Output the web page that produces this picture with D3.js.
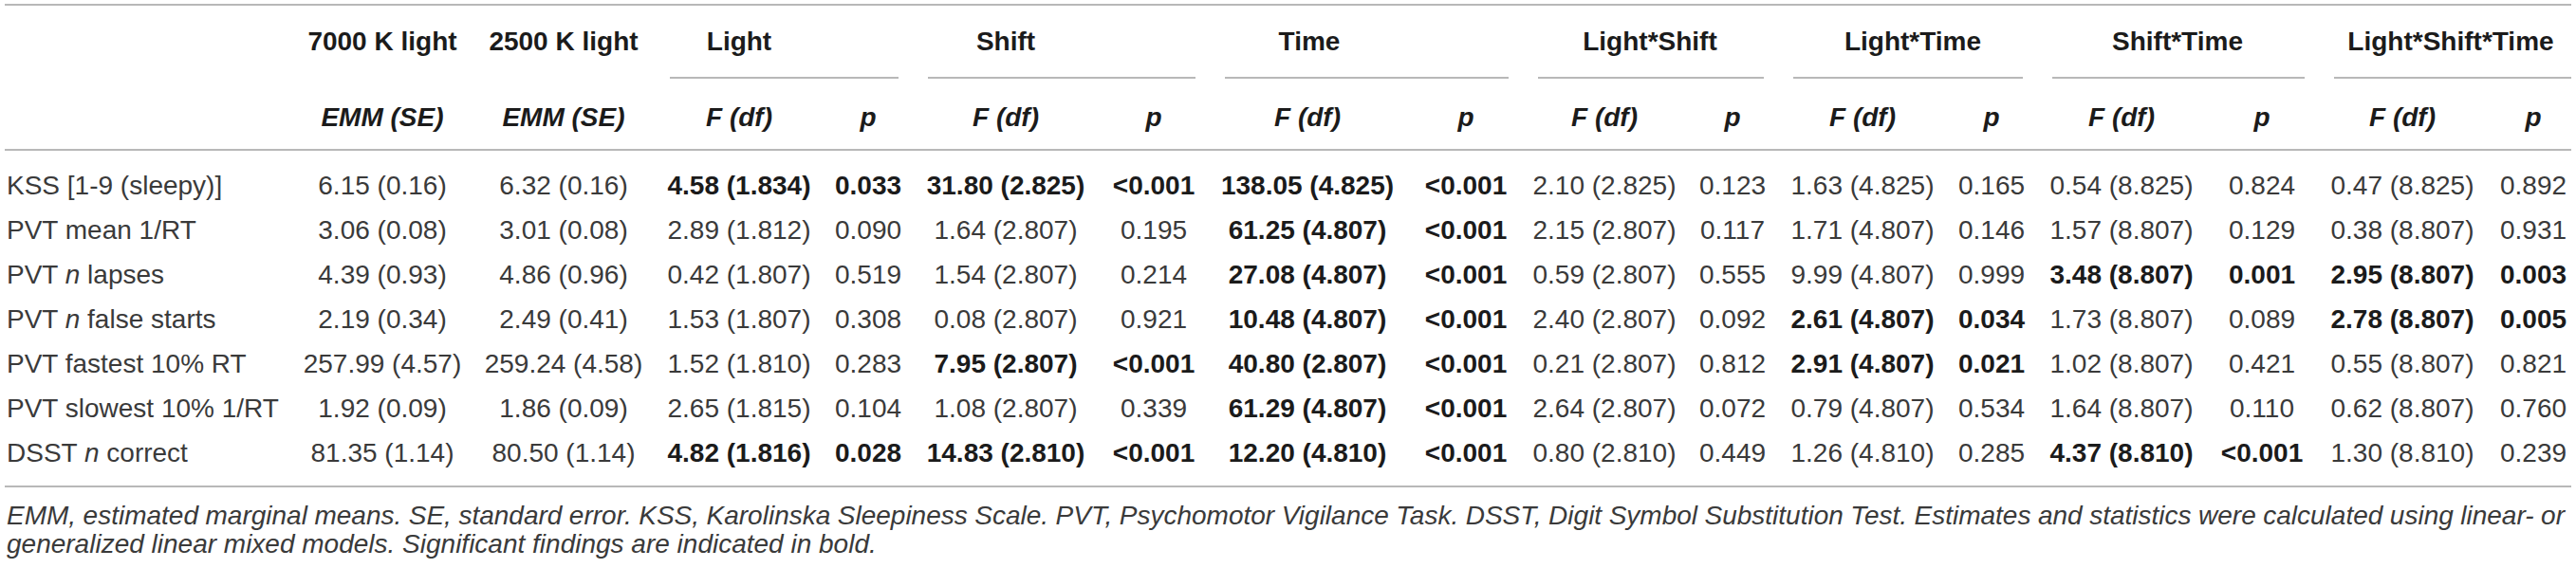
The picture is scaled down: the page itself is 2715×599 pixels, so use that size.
<!DOCTYPE html>
<html>
<head>
<meta charset="utf-8">
<script src="https://cdn.jsdelivr.net/npm/d3@7"></script>
<style>
  body { margin: 0; background: #fff; }
  text { font-family: "Liberation Sans", Arial, Helvetica, sans-serif; font-size: 28px; fill: #3a3a3a; }
  .bold { font-weight: bold; fill: #1b1b1b; }
  .ital { font-style: italic; }
  .rule { stroke: #a0a0a0; stroke-width: 1.6; }
</style>
</head>
<body>
<svg width="2715" height="599"></svg>
<script>
// ROWS
var measures = ['KSS [1-9 (sleepy)]', 'PVT mean 1/RT', 'PVT n lapses', 'PVT n false starts',
    'PVT fastest 10% RT', 'PVT slowest 10% 1/RT', 'DSST n correct']

// ESTIMATED MARGINAL MEANS (SE)
var emm7000 = [6.15, 3.06, 4.39, 2.19, 257.99, 1.92, 81.35]
var se7000 = [0.16, 0.08, 0.93, 0.34, 4.57, 0.09, 1.14]
var emm2500 = [6.32, 3.01, 4.86, 2.49, 259.24, 1.86, 80.50]
var se2500 = [0.16, 0.08, 0.96, 0.41, 4.58, 0.09, 1.14]

// EFFECTS: F, df, p
var effects = ['Light', 'Shift', 'Time', 'Light*Shift', 'Light*Time', 'Shift*Time', 'Light*Shift*Time']

var fLight = [4.58, 2.89, 0.42, 1.53, 1.52, 2.65, 4.82]
var dfLight = ['1.834', '1.812', '1.807', '1.807', '1.810', '1.815', '1.816']
var pLight = ['0.033', '0.090', '0.519', '0.308', '0.283', '0.104', '0.028']

var fShift = [31.80, 1.64, 1.54, 0.08, 7.95, 1.08, 14.83]
var dfShift = ['2.825', '2.807', '2.807', '2.807', '2.807', '2.807', '2.810']
var pShift = ['<0.001', '0.195', '0.214', '0.921', '<0.001', '0.339', '<0.001']

var fTime = [138.05, 61.25, 27.08, 10.48, 40.80, 61.29, 12.20]
var dfTime = ['4.825', '4.807', '4.807', '4.807', '2.807', '4.807', '4.810']
var pTime = ['<0.001', '<0.001', '<0.001', '<0.001', '<0.001', '<0.001', '<0.001']

var fLightShift = [2.10, 2.15, 0.59, 2.40, 0.21, 2.64, 0.80]
var dfLightShift = ['2.825', '2.807', '2.807', '2.807', '2.807', '2.807', '2.810']
var pLightShift = ['0.123', '0.117', '0.555', '0.092', '0.812', '0.072', '0.449']

var fLightTime = [1.63, 1.71, 9.99, 2.61, 2.91, 0.79, 1.26]
var dfLightTime = ['4.825', '4.807', '4.807', '4.807', '4.807', '4.807', '4.810']
var pLightTime = ['0.165', '0.146', '0.999', '0.034', '0.021', '0.534', '0.285']

var fShiftTime = [0.54, 1.57, 3.48, 1.73, 1.02, 1.64, 4.37]
var dfShiftTime = ['8.825', '8.807', '8.807', '8.807', '8.807', '8.807', '8.810']
var pShiftTime = ['0.824', '0.129', '0.001', '0.089', '0.421', '0.110', '<0.001']

var fAll = [0.47, 0.38, 2.95, 2.78, 0.55, 0.62, 1.30]
var dfAll = ['8.825', '8.807', '8.807', '8.807', '8.807', '8.807', '8.810']
var pAll = ['0.892', '0.931', '0.003', '0.005', '0.821', '0.760', '0.239']

var fByEffect = [fLight, fShift, fTime, fLightShift, fLightTime, fShiftTime, fAll]
var dfByEffect = [dfLight, dfShift, dfTime, dfLightShift, dfLightTime, dfShiftTime, dfAll]
var pByEffect = [pLight, pShift, pTime, pLightShift, pLightTime, pShiftTime, pAll]

var footnote = [
    'EMM, estimated marginal means. SE, standard error. KSS, Karolinska Sleepiness Scale. PVT, Psychomotor Vigilance Task. DSST, Digit Symbol Substitution Test. Estimates and statistics were calculated using linear- or',
    'generalized linear mixed models. Significant findings are indicated in bold.'
]

// LAYOUT
var columns = ['emm7000', 'emm2500']
effects.forEach(function(e){ columns.push(e + '|F', e + '|p') })

var colX = d3.scaleOrdinal()
    .domain(columns)
    .range([403, 594, 779, 915, 1060, 1216, 1378, 1545, 1691, 1826, 1963, 2099, 2236, 2384, 2532, 2670])

var headX = d3.scaleOrdinal()
    .domain(effects)
    .range([779, 1060, 1380, 1739, 2016, 2295, 2583])

var spanX = d3.scaleOrdinal()
    .domain(effects)
    .range([[706, 947], [978, 1260], [1291, 1590], [1621, 1859], [1890, 2132], [2163, 2429], [2460, 2710]])

var rowY = d3.scalePoint()
    .domain(measures)
    .range([195, 477])

var fmt = d3.format('.2f')
var svg = d3.select('svg')

function isSig (p) {
    return parseFloat(p.replace('<', '')) < 0.05
}

// RULES
svg.selectAll('line.full')
    .data([5, 158, 513])
    .enter()
    .append('line')
    .attr('class', 'rule')
    .attr('x1', 5).attr('x2', 2710)
    .attr('y1', function(d){ return d }).attr('y2', function(d){ return d })

svg.selectAll('line.group')
    .data(effects)
    .enter()
    .append('line')
    .attr('class', 'rule')
    .attr('x1', function(d){ return spanX(d)[0] })
    .attr('x2', function(d){ return spanX(d)[1] })
    .attr('y1', 82).attr('y2', 82)

// HEADERS
var head1 = [{t:'7000 K light', x:colX('emm7000')}, {t:'2500 K light', x:colX('emm2500')}]
    .concat(effects.map(function(e){ return {t:e, x:headX(e)} }))

svg.selectAll('text.h1')
    .data(head1)
    .enter()
    .append('text')
    .attr('class', 'h1 bold')
    .attr('x', function(d){ return d.x })
    .attr('y', 43)
    .attr('dy', '0.35em')
    .attr('text-anchor', 'middle')
    .text(function(d){ return d.t })

svg.selectAll('text.h2')
    .data(columns)
    .enter()
    .append('text')
    .attr('class', 'h2 bold ital')
    .attr('x', function(d){ return colX(d) })
    .attr('y', 123)
    .attr('dy', '0.35em')
    .attr('text-anchor', 'middle')
    .text(function(d){
        if (d.indexOf('emm') === 0) return 'EMM (SE)'
        return d.split('|')[1] === 'F' ? 'F (df)' : 'p'
    })

// ROW LABELS (n in italics)
svg.selectAll('text.label')
    .data(measures)
    .enter()
    .append('text')
    .attr('class', 'label')
    .attr('x', 7)
    .attr('y', function(d){ return rowY(d) })
    .attr('dy', '0.35em')
    .each(function(d){
        var words = d.split(' ')
        var t = d3.select(this)
        words.forEach(function(w, i){
            t.append('tspan')
                .attr('class', w === 'n' ? 'ital' : null)
                .text(w + (i < words.length - 1 ? ' ' : ''))
        })
    })

// CELLS
var cells = []
measures.forEach(function(m, i){
    cells.push({m:m, col:'emm7000', t:fmt(emm7000[i]) + ' (' + fmt(se7000[i]) + ')', b:false})
    cells.push({m:m, col:'emm2500', t:fmt(emm2500[i]) + ' (' + fmt(se2500[i]) + ')', b:false})
    effects.forEach(function(e, j){
        var p = pByEffect[j][i]
        var sig = isSig(p)
        cells.push({m:m, col:e + '|F', t:fmt(fByEffect[j][i]) + ' (' + dfByEffect[j][i] + ')', b:sig})
        cells.push({m:m, col:e + '|p', t:p, b:sig})
    })
})

svg.selectAll('text.cell')
    .data(cells)
    .enter()
    .append('text')
    .attr('class', function(d){ return d.b ? 'cell bold' : 'cell' })
    .attr('x', function(d){ return colX(d.col) })
    .attr('y', function(d){ return rowY(d.m) })
    .attr('dy', '0.35em')
    .attr('text-anchor', 'middle')
    .text(function(d){ return d.t })

// FOOTNOTE (first line justified)
svg.selectAll('text.note')
    .data(footnote)
    .enter()
    .append('text')
    .attr('class', 'note ital')
    .attr('x', 7)
    .attr('y', function(d, i){ return 543 + i * 30 })
    .attr('dy', '0.35em')
    .text(function(d){ return d })
    .each(function(d, i){
        if (i > 0) return
        var w = this.getComputedTextLength()
        var gaps = d.split(' ').length - 1
        d3.select(this).style('word-spacing', ((2703 - 7 - w) / gaps) + 'px')
    })
</script>
</body>
</html>
